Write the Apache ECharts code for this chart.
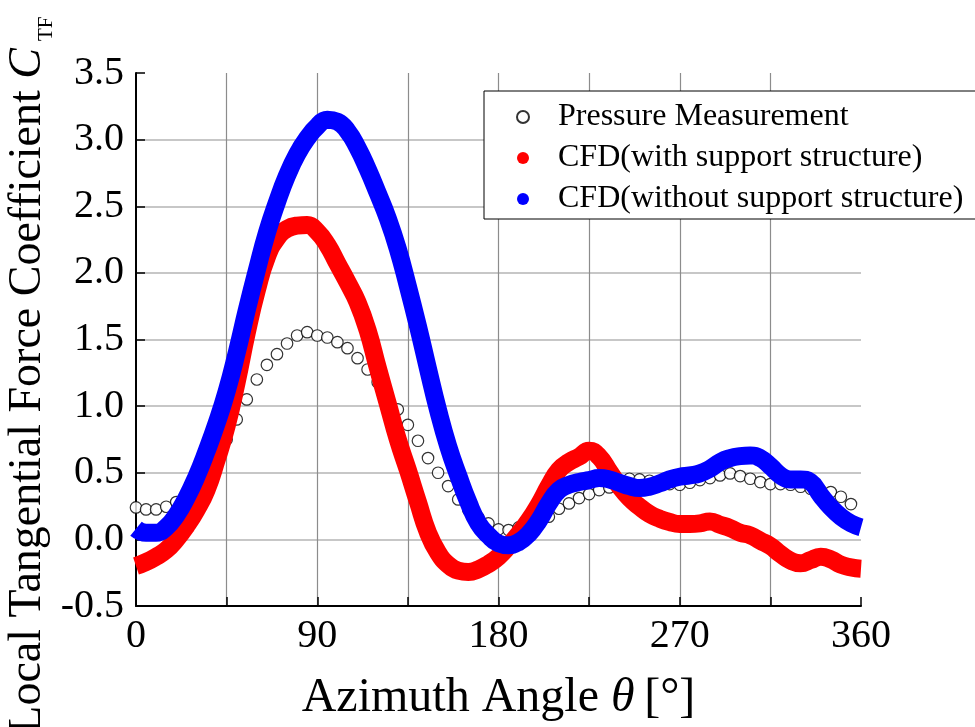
<!DOCTYPE html>
<html>
<head>
<meta charset="utf-8">
<title>Local Tangential Force Coefficient</title>
<script src="https://cdn.jsdelivr.net/npm/echarts@6/dist/echarts.min.js"></script>
<style>
  html, body { margin: 0; padding: 0; background: #fff; }
  #chart { width: 975px; height: 727px; }
</style>
</head>
<body>
<div id="chart"></div>
<script>
// Azimuth angles [deg] of the pressure taps
const measAngle = [0,5,10,15,20,25,30,35,40,45,50,55,60,65,70,75,80,85,90,95,100,105,110,115,120,125,130,135,140,145,150,155,160,165,170,175,180,185,190,195,200,205,210,215,220,225,230,235,240,245,250,255,260,265,270,275,280,285,290,295,300,305,310,315,320,325,330,335,340,345,350,355];
// C_TF from pressure measurement
const measCtf = [0.24,0.225,0.225,0.245,0.28,0.34,0.41,0.51,0.625,0.75,0.90,1.05,1.20,1.31,1.39,1.47,1.53,1.555,1.53,1.515,1.48,1.435,1.36,1.275,1.18,1.08,0.975,0.86,0.74,0.61,0.50,0.40,0.30,0.22,0.165,0.12,0.075,0.07,0.09,0.11,0.14,0.17,0.23,0.27,0.31,0.34,0.37,0.39,0.42,0.455,0.45,0.44,0.425,0.415,0.41,0.425,0.445,0.46,0.48,0.495,0.475,0.455,0.43,0.415,0.415,0.41,0.395,0.38,0.365,0.355,0.32,0.265];

// Azimuth angles [deg] of the CFD output
const cfdAngle = [0,5,10,15,20,25,30,35,40,45,50,55,60,65,70,75,80,85,90,95,100,105,110,115,120,125,130,135,140,145,150,155,160,165,170,175,180,185,190,195,200,205,210,215,220,225,230,235,240,245,250,255,260,265,270,275,280,285,290,295,300,305,310,315,320,325,330,335,340,345,350,355,360];
// CFD with support structure
const cfdWith = [-0.20,-0.17,-0.13,-0.08,0.00,0.10,0.22,0.37,0.595,0.85,1.18,1.55,1.87,2.12,2.26,2.33,2.355,2.36,2.31,2.21,2.07,1.93,1.78,1.57,1.29,1.02,0.75,0.52,0.28,0.05,-0.10,-0.19,-0.235,-0.245,-0.225,-0.185,-0.13,-0.05,0.04,0.14,0.26,0.40,0.52,0.58,0.62,0.665,0.62,0.51,0.40,0.31,0.245,0.19,0.155,0.13,0.115,0.115,0.12,0.135,0.11,0.085,0.05,0.03,-0.01,-0.05,-0.11,-0.16,-0.18,-0.155,-0.13,-0.15,-0.19,-0.21,-0.22];
// CFD without support structure
const cfdWithout = [0.08,0.05,0.05,0.09,0.18,0.31,0.47,0.66,0.87,1.11,1.40,1.72,2.02,2.30,2.53,2.73,2.89,3.01,3.10,3.15,3.135,3.065,2.94,2.78,2.60,2.41,2.18,1.90,1.60,1.28,0.97,0.70,0.48,0.28,0.12,0.03,-0.03,-0.045,-0.02,0.04,0.14,0.27,0.37,0.41,0.43,0.445,0.46,0.45,0.425,0.40,0.385,0.395,0.42,0.45,0.47,0.48,0.495,0.53,0.58,0.61,0.625,0.63,0.61,0.55,0.48,0.45,0.45,0.43,0.33,0.24,0.17,0.12,0.09];

const seriesNames = ['Pressure Measurement', 'CFD(with support structure)', 'CFD(without support structure)'];
const xLabelStep = 90;

const serif = "'Times New Roman', 'Liberation Serif', 'DejaVu Serif', serif";

function pairs(xs, ys) {
  return xs.map((x, i) => [x, ys[i]]);
}

const chart = echarts.init(document.getElementById('chart'), null, { renderer: 'canvas' });

chart.setOption({
  animation: false,
  backgroundColor: '#fff',
  grid: { left: 136, right: 114, top: 73, bottom: 121, containLabel: false },
  xAxis: {
    type: 'value',
    min: 0, max: 360, interval: 45,
    axisLine: { show: true, onZero: false, lineStyle: { color: '#000', width: 2 } },
    axisTick: { show: true, inside: true, length: 9, lineStyle: { color: '#000', width: 1.5 } },
    axisLabel: {
      color: '#000', fontSize: 40, fontFamily: serif, margin: 10,
      formatter: v => (v % xLabelStep === 0 ? String(v) : '')
    },
    splitLine: { show: true, showMinLine: false, showMaxLine: false, lineStyle: { color: '#8c8c8c', width: 1.2 } },
    name: 'Azimuth Angle {i|θ}\u2009[°]',
    nameLocation: 'middle',
    nameGap: 68,
    nameTextStyle: {
      color: '#000', fontSize: 48, fontFamily: serif,
      rich: { i: { fontStyle: 'italic', fontSize: 48, fontFamily: serif, color: '#000' } }
    }
  },
  yAxis: {
    type: 'value',
    min: -0.5, max: 3.5, interval: 0.5,
    axisLine: { show: true, onZero: false, lineStyle: { color: '#000', width: 2 } },
    axisTick: { show: true, inside: true, length: 9, lineStyle: { color: '#000', width: 1.5 } },
    axisLabel: {
      color: '#000', fontSize: 40, fontFamily: serif, margin: 12,
      formatter: v => v.toFixed(1)
    },
    splitLine: { show: true, showMinLine: false, showMaxLine: false, lineStyle: { color: '#b4b4b4', width: 1.5 } }
  },
  legend: {
    orient: 'vertical',
    left: 484, top: 91,
    padding: [10, 14, 4, 32],
    itemGap: 9,
    itemWidth: 12, itemHeight: 12,
    backgroundColor: '#fff',
    borderColor: '#000', borderWidth: 1, borderRadius: 0,
    textStyle: { color: '#000', fontSize: 32, fontFamily: serif, padding: [0, 0, 0, 24] },
    data: seriesNames.map(n => ({ name: n, icon: 'circle' }))
  },
  graphic: [
    {
      type: 'text', x: 28, y: 48, rotation: Math.PI / 2, silent: true,
      style: {
        text: 'Local Tangential Force Coefficient {c|C}',
        fontSize: 46, fontFamily: serif, fill: '#000',
        align: 'right', verticalAlign: 'middle',
        textAlign: 'right', textVerticalAlign: 'middle',
        rich: { c: { fontStyle: 'italic', fontSize: 46, fontFamily: serif, fill: '#000' } }
      }
    },
    {
      type: 'text', x: 46, y: 41, rotation: Math.PI / 2, silent: true,
      style: {
        text: 'TF', fontSize: 21, fontFamily: serif, fill: '#000',
        align: 'left', verticalAlign: 'middle',
        textAlign: 'left', textVerticalAlign: 'middle'
      }
    }
  ],
  series: [
    {
      name: seriesNames[0],
      type: 'scatter',
      symbol: 'circle',
      symbolSize: 11.5,
      itemStyle: { color: '#fff', borderColor: '#000', borderWidth: 1.2 },
      data: pairs(measAngle, measCtf)
    },
    {
      name: seriesNames[1],
      type: 'line',
      smooth: true,
      showSymbol: false,
      symbol: 'circle',
      itemStyle: { color: '#ff0000' },
      lineStyle: { color: '#ff0000', width: 18, cap: 'butt', join: 'round' },
      data: pairs(cfdAngle, cfdWith)
    },
    {
      name: seriesNames[2],
      type: 'line',
      smooth: true,
      showSymbol: false,
      symbol: 'circle',
      itemStyle: { color: '#0000ff' },
      lineStyle: { color: '#0000ff', width: 18, cap: 'butt', join: 'round' },
      data: pairs(cfdAngle, cfdWithout)
    }
  ]
});
</script>
</body>
</html>
